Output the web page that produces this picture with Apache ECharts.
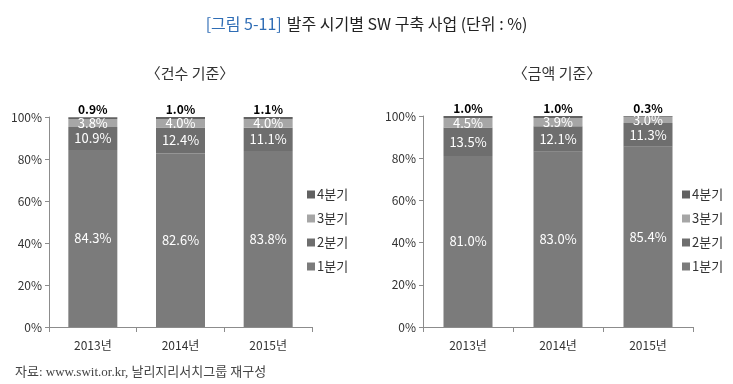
<!DOCTYPE html>
<html><head><meta charset="utf-8">
<script src="https://cdn.jsdelivr.net/npm/echarts@6/dist/echarts.min.js"></script>
<style>html,body{margin:0;padding:0;background:#fff}#c{width:733px;height:384px}</style>
</head><body><div id="c"></div>
<script>
const categories = ['2013년', '2014년', '2015년'];
const seriesNames = ['1분기', '2분기', '3분기', '4분기'];
const yTicks = [0, 20, 40, 60, 80, 100];
// 건수 기준
const countQ1 = [84.3, 82.6, 83.8];
const countQ2 = [10.9, 12.4, 11.1];
const countQ3 = [3.8, 4.0, 4.0];
const countQ4 = [0.9, 1.0, 1.1];
// 금액 기준
const amountQ1 = [81.0, 83.0, 85.4];
const amountQ2 = [13.5, 12.1, 11.3];
const amountQ3 = [4.5, 3.9, 3.0];
const amountQ4 = [1.0, 1.0, 0.3];

const colors = ['#7b7b7b', '#6e6e6e', '#a6a6a6', '#626262'];
const FONT = '"Noto Sans CJK KR", sans-serif';

function mkSeries(idx, arrays) {
  return arrays.map((arr, i) => ({
    name: seriesNames[i],
    type: 'bar',
    stack: 's' + idx,
    xAxisIndex: idx, yAxisIndex: idx,
    barWidth: 49,
    data: arr,
    itemStyle: { color: colors[i] },
    label: i === 3 ? {
      show: true, position: 'top', distance: 2, color: '#000', fontWeight: 'bold',
      fontSize: 12, fontFamily: FONT, formatter: p => p.value.toFixed(1) + '%'
    } : {
      show: true, position: 'inside', color: '#fff', fontSize: 13, fontFamily: FONT,
      formatter: p => p.value.toFixed(1) + '%'
    }
  }));
}

const yAxisBase = {
  type: 'value', min: 0, max: 100, interval: 20,
  axisLine: { show: true, lineStyle: { color: '#8c8c8c' } },
  axisTick: { show: true, length: 4, lineStyle: { color: '#8c8c8c' } },
  splitLine: { show: false },
  axisLabel: { color: '#333', fontSize: 12, fontFamily: FONT, margin: 7, formatter: v => v + '%' }
};
const xAxisBase = {
  type: 'category', data: categories,
  axisLine: { show: true, lineStyle: { color: '#8c8c8c' } },
  axisTick: { show: true, length: 5, alignWithLabel: false, lineStyle: { color: '#8c8c8c' } },
  axisLabel: { color: '#333', fontSize: 12, fontFamily: FONT, margin: 12 }
};
const legendBase = {
  orient: 'vertical', data: ['4분기', '3분기', '2분기', '1분기'],
  icon: 'rect', itemWidth: 8, itemHeight: 8, itemGap: 11,
  textStyle: { color: '#333', fontSize: 13, fontFamily: FONT, padding: [0, 0, 0, -3] },
  selectedMode: false
};

const chart = echarts.init(document.getElementById('c'));
chart.setOption({
  animation: false,
  backgroundColor: '#fff',
  title: [
    { text: '{b|[그림 5-11]} {d|발주 시기별 SW 구축 사업 (단위 : %)}', left: 'center', top: 10,
      textStyle: { fontWeight: 'normal', rich: {
        b: { color: '#2f6db5', fontSize: 16, fontWeight: 'normal', fontFamily: FONT },
        d: { color: '#222', fontSize: 16, fontWeight: 'normal', fontFamily: FONT }
      } } },
    { text: '〈건수 기준〉', left: 185, textAlign: 'center', top: 61,
      textStyle: { color: '#333', fontSize: 15, fontWeight: 'normal', fontFamily: FONT } },
    { text: '〈금액 기준〉', left: 552, textAlign: 'center', top: 61,
      textStyle: { color: '#333', fontSize: 15, fontWeight: 'normal', fontFamily: FONT } },
    { text: '자료: www.swit.or.kr, 날리지리서치그룹 재구성', left: 10, top: 361,
      textStyle: { color: '#444', fontSize: 13, fontWeight: 'normal', fontFamily: '"Liberation Serif", "Noto Sans CJK KR", serif' } }
  ],
  grid: [
    { left: 49, right: 421, top: 117, bottom: 57 },
    { left: 423, right: 40, top: 116, bottom: 57 }
  ],
  xAxis: [Object.assign({ gridIndex: 0 }, xAxisBase), Object.assign({ gridIndex: 1 }, xAxisBase)],
  yAxis: [Object.assign({ gridIndex: 0 }, yAxisBase), Object.assign({ gridIndex: 1 }, yAxisBase)],
  legend: [
    Object.assign({ left: 302, top: 183 }, legendBase),
    Object.assign({ left: 677, top: 183 }, legendBase)
  ],
  series: [
    ...mkSeries(0, [countQ1, countQ2, countQ3, countQ4]),
    ...mkSeries(1, [amountQ1, amountQ2, amountQ3, amountQ4])
  ]
});
</script></body></html>
